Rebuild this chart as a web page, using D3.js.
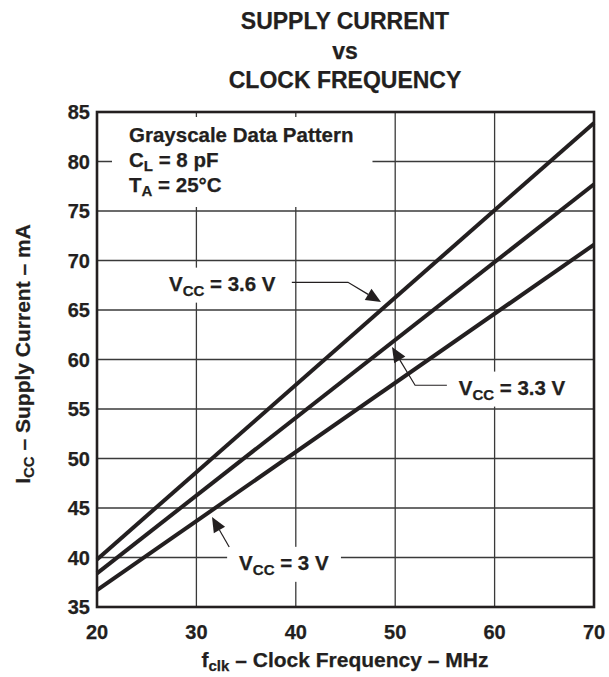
<!DOCTYPE html>
<html><head><meta charset="utf-8">
<script src="https://cdn.jsdelivr.net/npm/d3@7/dist/d3.min.js"></script>
<style>
html,body{margin:0;padding:0;background:#fff;}
svg text{font-family:"Liberation Sans",Arial,sans-serif;font-weight:bold;fill:#231f20;stroke:#231f20;stroke-width:0.25px;}
</style></head>
<body><svg id="c" width="609" height="677"></svg>
<script>
// ---- data ----
const freqs = [20, 70];                       // MHz
const vcc36 = [39.8, 83.9];                   // mA
const vcc33 = [38.4, 77.7];
const vcc30 = [36.7, 71.6];
const xTicks = [20, 30, 40, 50, 60, 70];
const yTicks = [35, 40, 45, 50, 55, 60, 65, 70, 75, 80, 85];
const titleLines = ["SUPPLY CURRENT", "vs", "CLOCK FREQUENCY"];
const conditions = [["Grayscale Data Pattern", ""], ["C", "L", " = 8 pF"], ["T", "A", " = 25°C"]];
// annotation anchors in data units: label centre, leader start, bend, arrow tip
const annotations = [
  {main: "V", sub: "CC", rest: " = 3.6 V", label: [32.6, 67.7], path: [[39.6, 67.8], [45.25, 67.8], [48.57, 65.8]]},
  {main: "V", sub: "CC", rest: " = 3.3 V", label: [61.75, 57.2], path: [[55.2, 57.4], [52.0, 57.4], [49.68, 61.26]]},
  {main: "V", sub: "CC", rest: " = 3 V", label: [38.8, 39.5], path: [[33.3, 41.06], [31.57, 44.1]]}
];

const svg = d3.select("#c");
const x = d3.scaleLinear().domain([20, 70]).range([97, 594]);
const y = d3.scaleLinear().domain([35, 85]).range([607, 112]);
const ink = "#231f20";

// grid
const grid = svg.append("g");
grid.selectAll("line.v").data(xTicks).join("line")
  .attr("x1", d => x(d)).attr("x2", d => x(d)).attr("y1", y(35)).attr("y2", y(85))
  .attr("stroke", "#3a3a3a").attr("stroke-width", 1.3);
grid.selectAll("line.h").data(yTicks).join("line")
  .attr("x1", x(20)).attr("x2", x(70)).attr("y1", d => y(d)).attr("y2", d => y(d))
  .attr("stroke", "#3a3a3a").attr("stroke-width", 1.3);

const maskLayer = svg.append("g");
const lineLayer = svg.append("g");
const textLayer = svg.append("g");

// data lines
const line = d3.line().x((d, i) => x(freqs[i])).y(d => y(d));
[vcc36, vcc33, vcc30].forEach(s => {
  lineLayer.append("path").attr("d", line(s)).attr("fill", "none")
    .attr("stroke", ink).attr("stroke-width", 4);
});

// border
svg.append("rect").attr("x", x(20)).attr("y", y(85)).attr("width", x(70) - x(20)).attr("height", y(35) - y(85))
  .attr("fill", "none").attr("stroke", ink).attr("stroke-width", 2.6);

// title
svg.append("g").selectAll("text").data(titleLines).join("text")
  .attr("x", 345).attr("y", (d, i) => 29 + i * 29.5).attr("text-anchor", "middle")
  .attr("font-size", 23).text(d => d);

// ticks
svg.append("g").selectAll("text").data(xTicks).join("text")
  .attr("x", d => x(d)).attr("y", 639).attr("text-anchor", "middle").attr("font-size", 20).text(d => d);
svg.append("g").selectAll("text").data(yTicks).join("text")
  .attr("x", 90).attr("y", d => y(d)).attr("dy", "0.36em").attr("text-anchor", "end").attr("font-size", 20).text(d => d);

// axis titles
const xt = svg.append("text").attr("x", 345).attr("y", 667).attr("text-anchor", "middle").attr("font-size", 21);
xt.append("tspan").text("f");
xt.append("tspan").attr("font-size", 15).attr("dy", 4).text("clk");
xt.append("tspan").attr("dy", -4).text(" – Clock Frequency – MHz");

const yt = svg.append("text").attr("transform", "translate(30,354) rotate(-90)").attr("text-anchor", "middle").attr("font-size", 21);
yt.append("tspan").text("I");
yt.append("tspan").attr("font-size", 15).attr("dy", 4).text("CC");
yt.append("tspan").attr("dy", -4).text(" – Supply Current – mA");

// condition block
const cond = textLayer.append("g");
conditions.forEach((c, i) => {
  const t = cond.append("text").attr("x", 129).attr("y", 142 + i * 25).attr("font-size", 20.5);
  if (c.length === 2) { t.text(c[0]); }
  else {
    t.append("tspan").text(c[0]);
    t.append("tspan").attr("font-size", 15).attr("dy", 4).text(c[1]);
    t.append("tspan").attr("dy", -4).text(c[2]);
  }
});
const cb = cond.node().getBBox();
maskLayer.append("rect").attr("x", cb.x - 17).attr("y", cb.y - 6).attr("width", cb.width + 36).attr("height", cb.height + 14).attr("fill", "#fff");

// annotations
annotations.forEach(a => {
  const t = textLayer.append("text").attr("x", x(a.label[0])).attr("y", y(a.label[1])).attr("dy", "0.36em")
    .attr("text-anchor", "middle").attr("font-size", 20.5);
  t.append("tspan").text(a.main);
  t.append("tspan").attr("font-size", 15).attr("dy", 5).text(a.sub);
  t.append("tspan").attr("dy", -5).text(a.rest);
  const b = t.node().getBBox();
  maskLayer.append("rect").attr("x", b.x - 12).attr("y", b.y - 4).attr("width", b.width + 24).attr("height", b.height + 8).attr("fill", "#fff");
  const pts = a.path.map(p => [x(p[0]), y(p[1])]);
  const n = pts.length;
  const tip = pts[n - 1], prev = pts[n - 2];
  const ang = Math.atan2(tip[1] - prev[1], tip[0] - prev[0]);
  const L = 15, W = 6.5;
  const base = [tip[0] - L * Math.cos(ang), tip[1] - L * Math.sin(ang)];
  const ptsLine = pts.slice(0, n - 1).concat([base]);
  textLayer.append("path").attr("d", d3.line()(ptsLine)).attr("fill", "none").attr("stroke", ink).attr("stroke-width", 1.2);
  const px = -Math.sin(ang), py = Math.cos(ang);
  textLayer.append("path").attr("d", d3.line()([tip, [base[0] + W * px, base[1] + W * py], [base[0] - W * px, base[1] - W * py]]) + "Z")
    .attr("fill", ink);
});
</script></body></html>
